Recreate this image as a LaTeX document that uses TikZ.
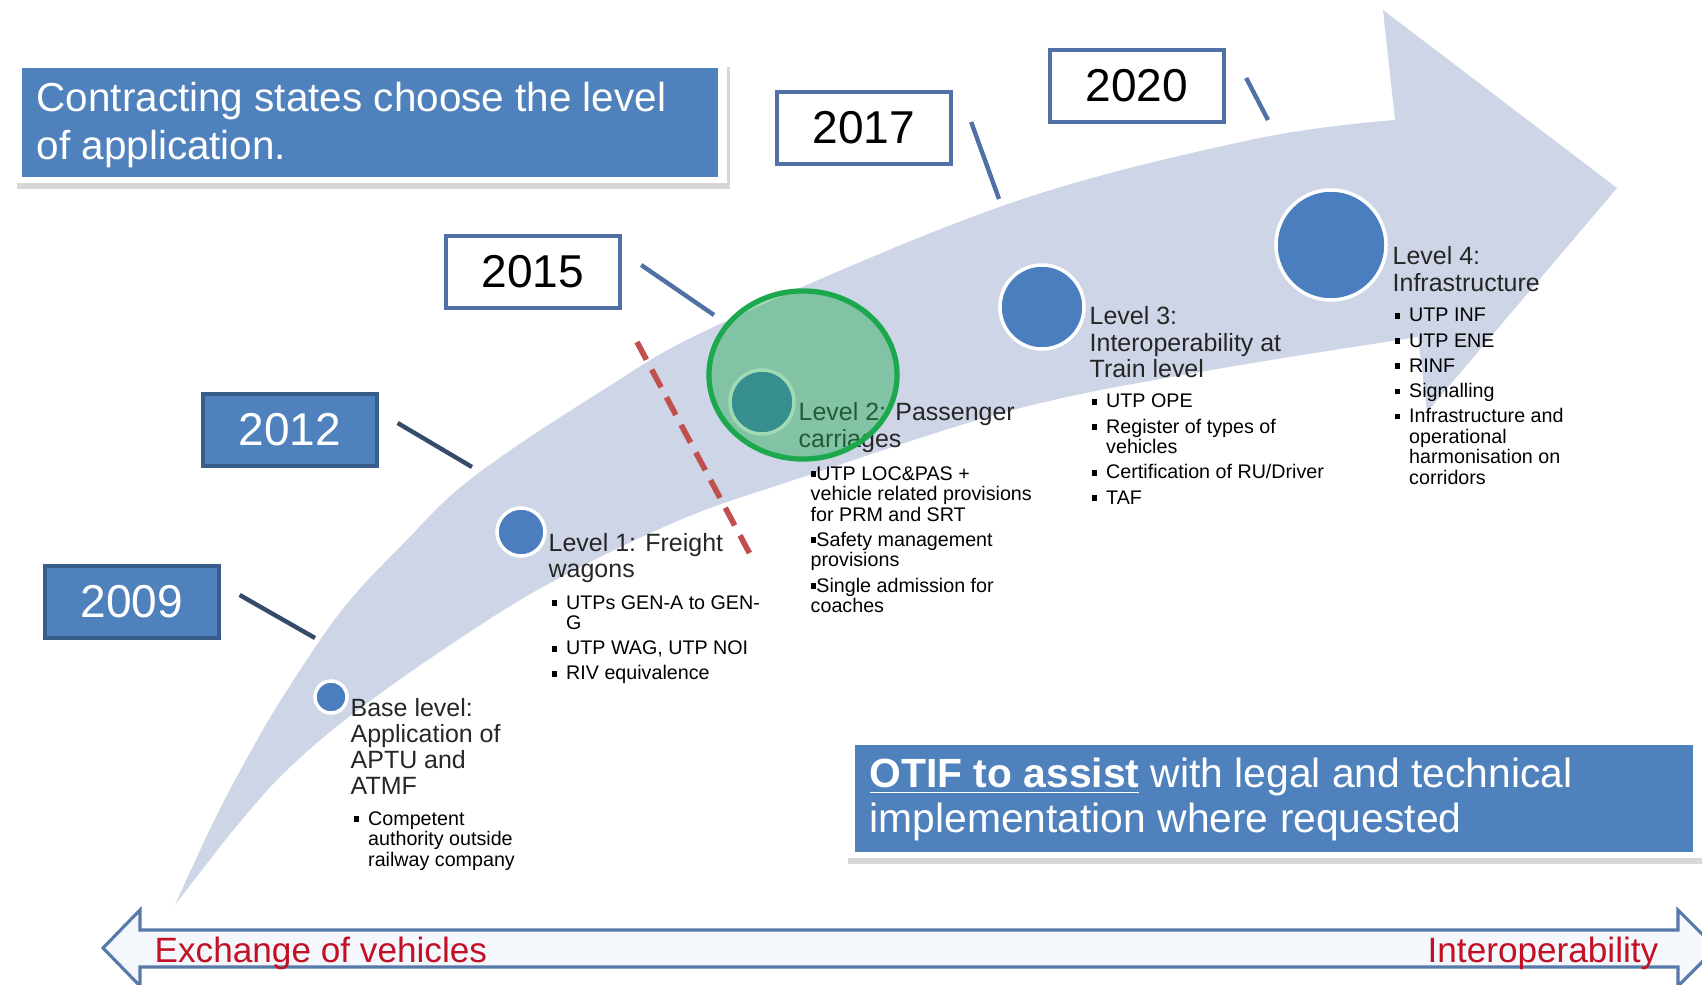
\documentclass[tikz,border=0pt]{standalone}
\usepackage{fontspec}
\setmainfont{Liberation Sans}
\usetikzlibrary{positioning}

\definecolor{bandblue}{RGB}{205,213,230}
\definecolor{boxblue}{RGB}{79,129,189}
\definecolor{boxedge}{RGB}{56,93,138}
\definecolor{stemdark}{RGB}{52,75,105}
\definecolor{stemblue}{RGB}{79,113,165}
\definecolor{dotblue}{RGB}{74,126,190}
\definecolor{ringgreen}{RGB}{28,168,76}
\definecolor{cutred}{RGB}{192,80,77}
\definecolor{textred}{RGB}{196,16,36}
\definecolor{scalefill}{RGB}{244,248,252}
\definecolor{scaleedge}{RGB}{88,122,170}

\newcommand{\sqb}{\rule[0.3ex]{0.55ex}{0.55ex}}
\newcommand{\headfont}{\fontsize{7.1}{7.4}\selectfont}
\newcommand{\listfont}{\fontsize{5.6}{5.85}\selectfont}
\newcommand{\yearfont}{\fontsize{13.1}{15}\selectfont}
\newcommand{\bigfont}{\fontsize{11.5}{13.6}\selectfont}

\begin{document}
\begin{tikzpicture}[x=0.01cm, y=-0.01cm,
    yearbox/.style={rectangle, minimum width=1.74cm, minimum height=0.72cm, inner sep=0pt, font=\yearfont},
    bluebox/.style={yearbox, fill=boxblue, draw=boxedge, line width=0.9pt, text=white},
    whitebox/.style={yearbox, fill=white, draw=stemblue, line width=1.2pt, text=black},
    stem/.style={line width=1.25pt},
    level/.style={circle, fill=dotblue, draw=white, line width=1pt, inner sep=0pt},
    heading/.style={anchor=base west, inner sep=0pt, font=\headfont, text=black!85},
    items/.style={anchor=base west, inner sep=0pt, font=\listfont},
    scaletext/.style={inner sep=0pt, text=textred, font=\fontsize{10}{12}\selectfont}]

    \useasboundingbox (0,0) rectangle (1702,985);

    % big curved arrow
    \fill[bandblue] plot[smooth, tension=0.6] coordinates {(175,905) (212,825) (246,760) (284,695) (342,610) (402,545) (472,478) (600,392) (720,324) (1005,205) (1250,140) (1395,120)}
        -- (1383,10) -- (1617,188) -- (1427,412) -- (1418,337)
        -- plot[smooth, tension=0.6] coordinates {(1418,337) (1200,372) (1013,410) (800,478) (680,520) (550,583) (450,645) (350,716) (285,772) (240,822) (205,866) (175,905)} -- cycle;

    % years
    \node[bluebox] (y2009) at (132,602) {2009};
    \node[bluebox] (y2012) at (290,430) {2012};
    \node[whitebox] (y2015) at (533,272) {2015};
    \node[whitebox] (y2017) at (864,128) {2017};
    \node[whitebox] (y2020) at (1137,86) {2020};

    \coordinate (t2009) at (315,638);
    \coordinate (t2012) at (472,467);
    \coordinate (t2015) at (714,315);
    \coordinate (t2017) at (999,199);
    \coordinate (t2020) at (1268,120);

    \draw[stem, stemdark] ([shift={(19,-7)}]y2009.east) -- (t2009);
    \draw[stem, stemdark] ([shift={(19,-7)}]y2012.east) -- (t2012);
    \draw[stem, stemblue] ([shift={(19,-7)}]y2015.east) -- (t2015);
    \draw[stem, stemblue] ([shift={(18,-6)}]y2017.east) -- (t2017);
    \draw[stem, stemblue] ([shift={(20,-8)}]y2020.east) -- (t2020);

    % levels
    \node[level, minimum size=0.32cm] (lev0) at (331,697) {};
    \node[level, minimum size=0.48cm] (lev1) at (521,532) {};
    \node[level, minimum size=0.64cm] (lev2) at (762,402) {};
    \node[level, minimum size=0.84cm] (lev3) at (1042,307) {};
    \node[level, minimum size=1.10cm] (lev4) at (1331,245) {};

    \node[heading] (head0) at (350,716) {\begin{tabular}[t]{@{}l@{}}Base level:\\Application of\\APTU and\\ATMF\end{tabular}};
    \node[items] (list0) at (353,825) {\begin{tabular}[t]{@{}l@{\hspace{2.5pt}}l@{}}
        \sqb & Competent\\ & authority outside\\ & railway company\end{tabular}};

    \node[heading] (head1) at (548,551) {\begin{tabular}[t]{@{}l@{}}Level 1: Freight\\wagons\end{tabular}};
    \node[items] (list1) at (551,609) {\begin{tabular}[t]{@{}l@{\hspace{2.5pt}}l@{}}
        \sqb & UTPs GEN-A to GEN-\\ & G\\[1.3pt]
        \sqb & UTP WAG, UTP NOI\\[1.3pt]
        \sqb & RIV equivalence\end{tabular}};

    \node[heading] (head2) at (798,421) {\begin{tabular}[t]{@{}l@{}}Level 2: Passenger\\carriages\end{tabular}};
    \node[items] (list2) at (810,480) {\begin{tabular}[t]{@{}l@{}}
        \sqb UTP LOC\&PAS +\\vehicle related provisions\\for PRM and SRT\\[1.3pt]
        \sqb Safety management\\provisions\\[1.3pt]
        \sqb Single admission for\\coaches\end{tabular}};

    \node[heading] (head3) at (1089,325) {\begin{tabular}[t]{@{}l@{}}Level 3:\\Interoperability at\\Train level\end{tabular}};
    \node[items] (list3) at (1091,408) {\begin{tabular}[t]{@{}l@{\hspace{2.5pt}}l@{}}
        \sqb & UTP OPE\\[1.3pt]
        \sqb & Register of types of\\ & vehicles\\[1.3pt]
        \sqb & Certification of RU/Driver\\[1.3pt]
        \sqb & TAF\end{tabular}};

    \node[heading] (head4) at (1392,265) {\begin{tabular}[t]{@{}l@{}}Level 4:\\Infrastructure\end{tabular}};
    \node[items] (list4) at (1394,322) {\begin{tabular}[t]{@{}l@{\hspace{2.5pt}}l@{}}
        \sqb & UTP INF\\[1.3pt]
        \sqb & UTP ENE\\[1.3pt]
        \sqb & RINF\\[1.3pt]
        \sqb & Signalling\\[1.3pt]
        \sqb & Infrastructure and\\ & operational\\ & harmonisation on\\ & corridors\end{tabular}};

    % level 2 marker
    \draw[ringgreen, line width=1.5pt, fill=ringgreen, fill opacity=0.42] (803,375) ellipse (0.94cm and 0.84cm);
    \draw[cutred, line width=1.6pt, dash pattern=on 5.7pt off 3.2pt] (637,342) -- (751,556);

    % boxes
    \fill[black!35, opacity=0.45] (17,67) rectangle (730,189);
    \fill[white] (14,62) rectangle (727,183);
    \fill[boxblue] (22,68) rectangle (718,177);
    \node[anchor=base west, inner sep=0pt, text=white, font=\bigfont] (goal) at (36,112)
        {\begin{tabular}[t]{@{}l@{}}Contracting states choose the level\\of application.\end{tabular}};

    \fill[black!35, opacity=0.45] (848,740) rectangle (1702,864);
    \fill[white] (845,735) rectangle (1702,858);
    \fill[boxblue] (855,745) rectangle (1693,852);
    \node[anchor=base west, inner sep=0pt, text=white, font=\fontsize{11.6}{12.8}\selectfont] (assist) at (869,787)
        {\begin{tabular}[t]{@{}l@{}}\underline{\textbf{OTIF to assist}} with legal and technical\\implementation where requested\end{tabular}};

    % scale arrow
    \draw[scaleedge, line width=0.9pt, fill=scalefill] (103,948) -- (140,910) -- (140,930) -- (1678,930) -- (1678,910)
        -- (1716,948) -- (1678,986) -- (1678,967) -- (140,967) -- (140,986) -- cycle;
    \node[scaletext, anchor=base west] (exch) at (154,962) {Exchange of vehicles};
    \node[scaletext, anchor=base east] (interop) at (1659,962) {Interoperability};
\end{tikzpicture}
\end{document}
